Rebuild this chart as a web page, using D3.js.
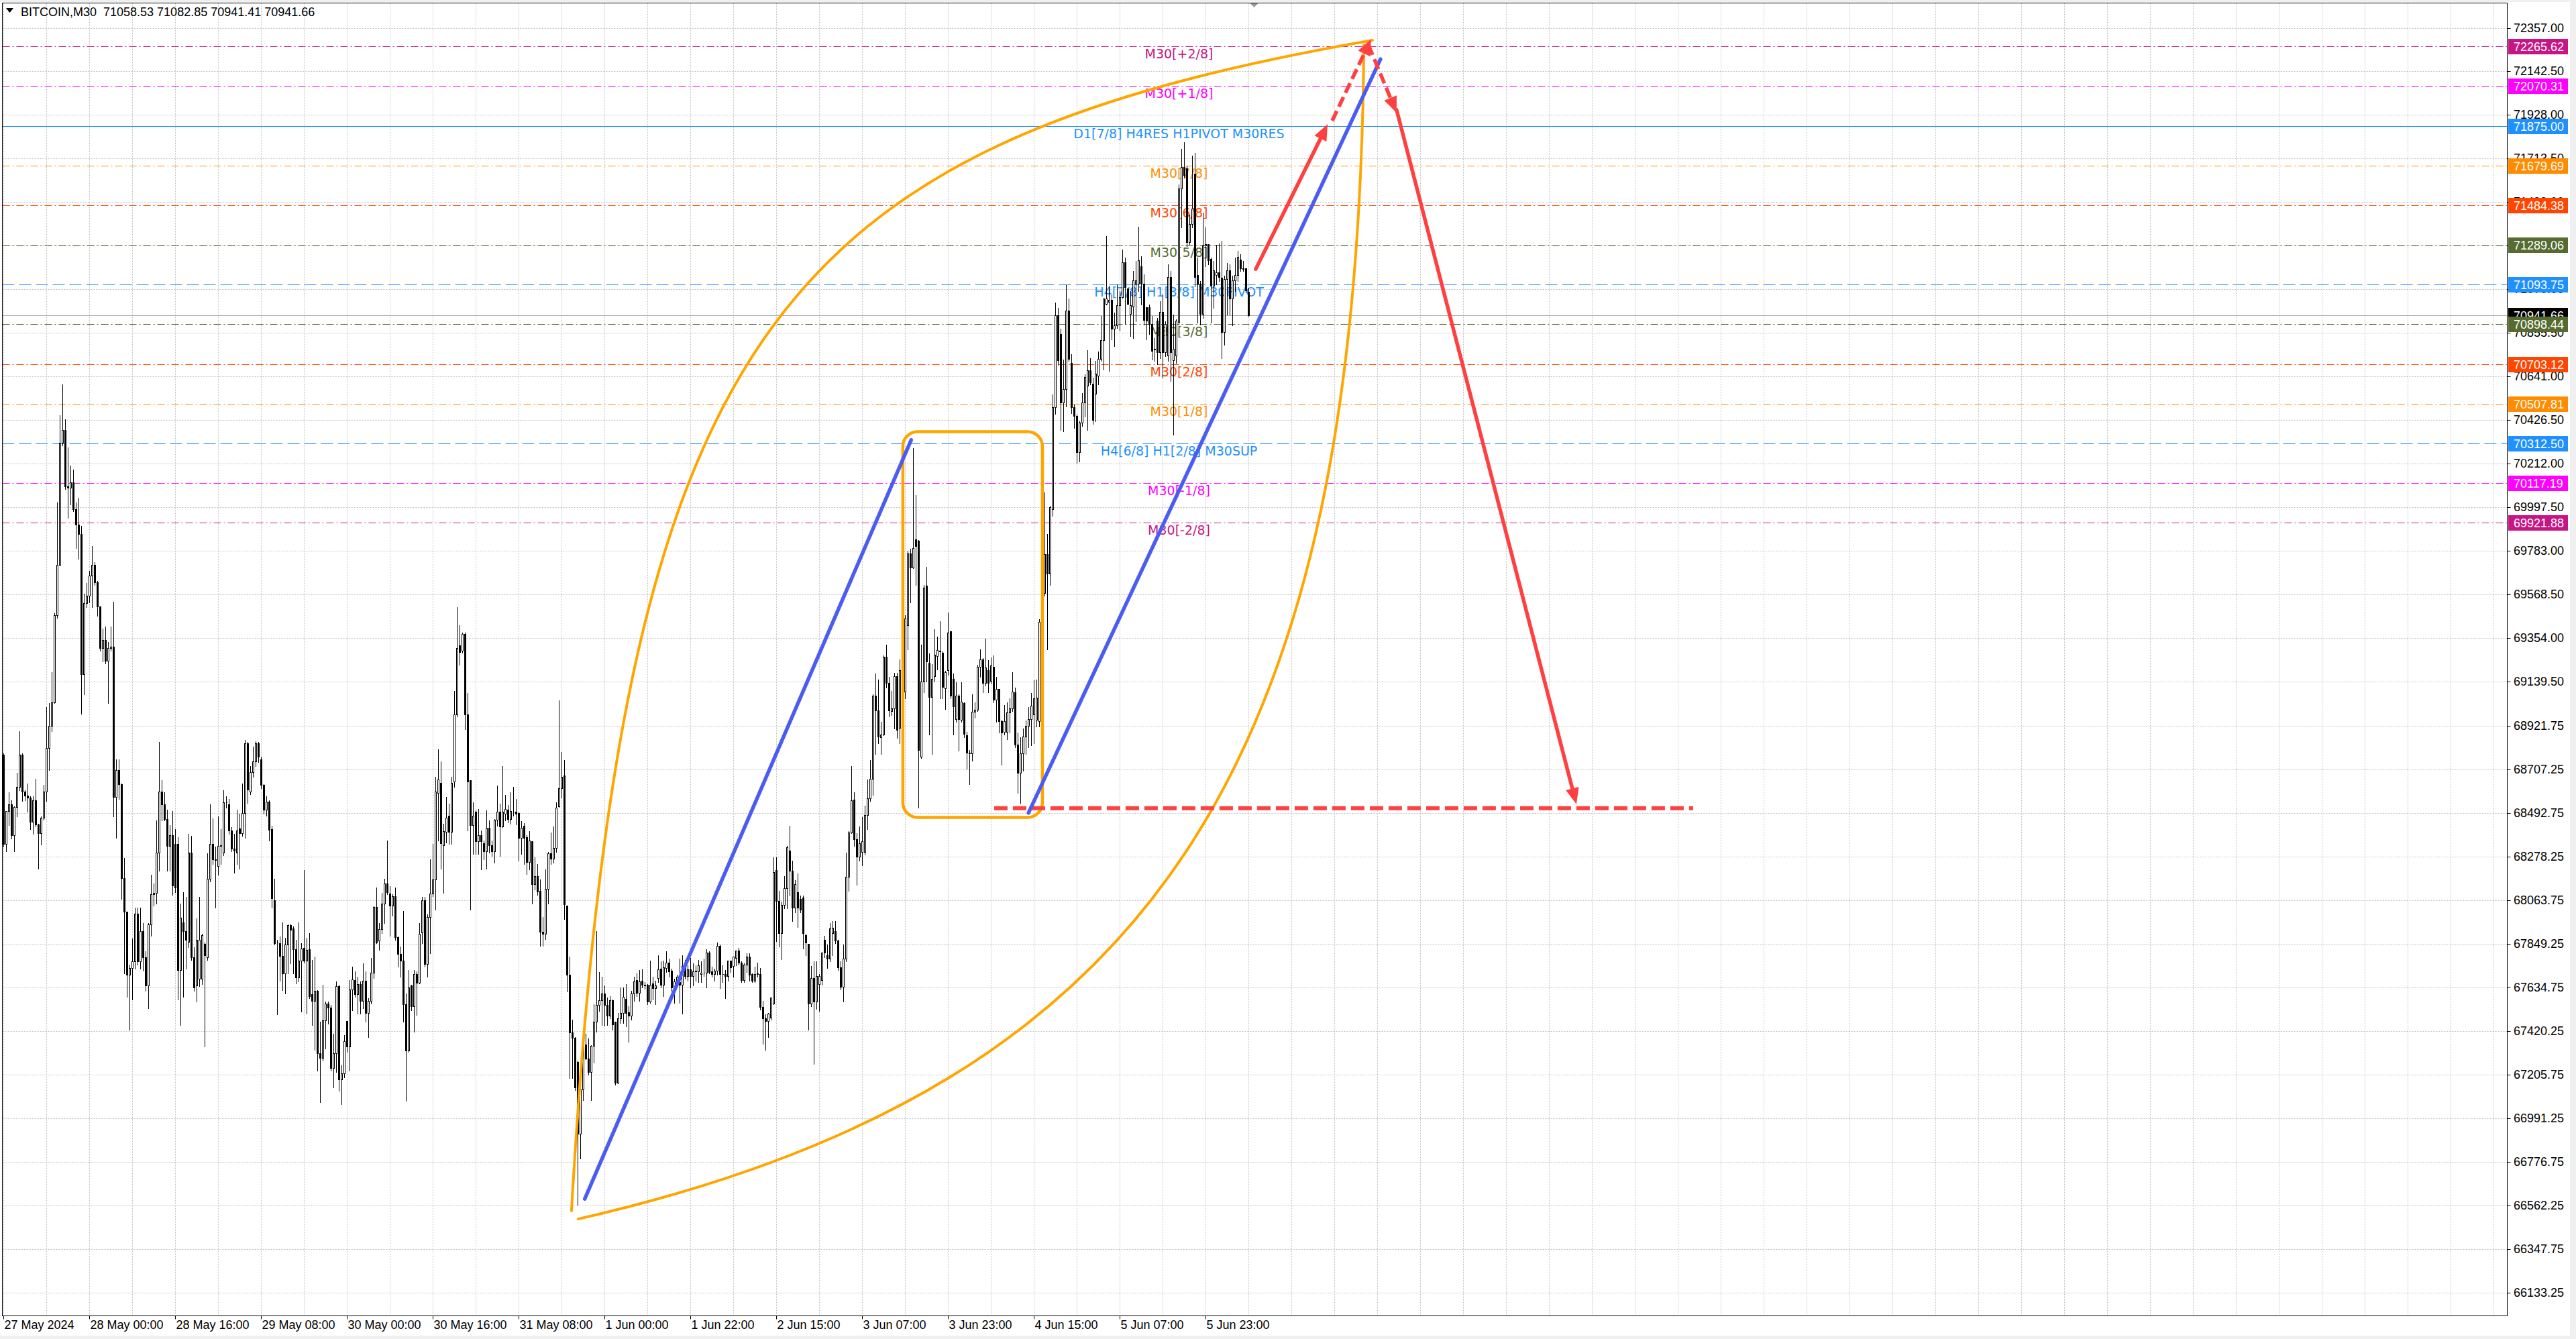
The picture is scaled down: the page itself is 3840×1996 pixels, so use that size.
<!DOCTYPE html>
<html>
<head>
<meta charset="utf-8">
<script src="https://cdn.jsdelivr.net/npm/d3@7"></script>
<style>
html, body { margin: 0; padding: 0; background: #fff; overflow: hidden; }
svg { display: block; }
</style>
</head>
<body>
<script>
// ---- data (BITCOIN, M30) ----
var opens = [
68782,68342,68503,68535,68385,68524,68621,68782,68599,68578,
68570,68449,68556,68438,68395,68470,68599,68814,68921,69039,
69468,69714,70315,70379,70101,70095,70122,69987,69914,69865,
69178,69528,69564,69661,69714,69629,69511,69307,69345,69243,
69307,69312,68571,68706,68636,68174,68009,67698,67730,67763,
67999,67763,67913,67784,67645,67945,68095,68100,68299,68599,
68535,68464,68331,68385,68342,68342,67720,67956,67913,67860,
68299,67784,67645,67677,67677,67849,67784,68170,68342,68267,
68234,68331,68299,68546,68535,68406,68320,68299,68417,68395,
68492,68835,68599,68696,68749,68835,68757,68633,68509,68550,
68415,68064,67857,67854,67791,67706,67846,67943,67927,67824,
67684,67767,67831,67767,67824,67601,67568,67618,67313,67288,
67474,67557,67536,67239,67313,67643,67184,67214,67470,67346,
67626,67672,67601,67651,67568,67668,67511,67568,67709,68031,
67866,67923,68047,68146,68097,68039,68085,67882,67800,67767,
67552,67326,67646,67544,67700,67659,67907,68064,67750,67981,
68097,68167,68592,68641,68336,68402,68481,68402,68649,68980,
69318,69293,69375,68980,68654,68435,68501,68356,68385,68344,
68306,68422,68336,68306,68459,68501,68427,68490,68509,68465,
68501,68499,68495,68372,68431,68375,68254,68355,68145,68182,
68111,67909,67900,68119,68296,68268,68322,68527,68616,68678,
68039,67698,67415,67387,67269,66915,67134,67353,67286,67219,
67348,67466,67550,67572,67605,67550,67496,67572,67466,67168,
67483,67510,67580,67513,67496,67605,67673,67610,67668,67648,
67648,67567,67655,67631,67681,67728,67648,67732,67757,67719,
67634,67665,67661,67648,67740,67690,67723,67690,67715,67715,
67702,67707,67707,67808,67715,67702,67719,67840,67702,67702,
67690,67766,67740,67779,67816,67757,67673,67749,67786,67702,
67668,67702,67702,67539,67483,67471,67488,67555,68212,68060,
67903,68040,68124,68307,68208,68029,68103,68071,68076,67892,
67850,67555,67682,67566,67650,67671,67871,67794,67777,67903,
67914,67866,67735,67640,67777,68181,68398,68560,68366,68278,
68303,68303,68482,68566,68661,69071,68998,68867,68881,69261,
69135,68994,69008,69166,68913,69197,69092,69419,69772,69703,
69840,69835,68770,69141,69612,69233,69065,69166,69267,69292,
69282,69107,69197,69387,69155,68956,69071,68951,69036,68876,
68791,68787,68993,69002,69212,69250,69134,69198,69145,69212,
69050,69103,68945,68892,68892,68987,69008,69086,68829,68692,
68787,68871,68924,68956,68980,68951,68945,69435,69576,69766,
69671,69990,70490,70942,70851,70515,70580,70966,70707,70490,
70449,70269,70416,70515,70597,70671,70605,70556,70646,70728,
70819,71000,71007,71017,70876,70892,70991,71032,71204,71073,
70950,70986,71098,71098,71183,71098,70983,70983,70901,70773,
70917,70761,70958,70761,70745,71130,70720,70745,70909,71566,
71672,71664,71303,71393,71639,71139,71098,70950,71287,71292,
71221,71089,71139,71155,71127,70859,71122,71163,71024,71114,
71139,71216,71172,71172,71058.53];
var highs = [
68790,68503,68599,68560,68530,68696,68899,68790,68610,68642,
68580,68578,68664,68445,68481,68636,69017,69039,69189,69479,
70026,70455,70605,70433,70294,70208,70186,70026,70047,69908,
69575,69629,69687,69811,69730,69640,69511,69404,69414,69339,
69414,69537,68760,68760,68642,68277,68009,67752,67881,68031,
68031,68031,67956,67816,67956,68192,68149,68460,68846,68657,
68599,68513,68438,68507,68417,68378,68052,68106,68085,68395,
68385,67838,67977,68085,67902,67860,68299,68541,68470,68331,
68481,68417,68610,68578,68567,68427,68395,68513,68492,68642,
68857,68846,68728,68824,68850,68846,68773,68640,68580,68558,
68435,68174,67874,67890,67960,67882,67948,67948,67940,67874,
67960,67857,68217,67882,67907,67775,67791,67626,67470,67651,
67568,67568,67552,67412,67668,67651,67255,67404,67470,67676,
67742,67717,67692,67668,67758,67717,67585,67783,68039,68130,
67956,68105,68174,68361,68138,68097,68130,67890,67841,68014,
67610,67725,67651,67725,67717,67956,68085,68085,67998,68270,
68344,68674,68811,68752,68443,68575,68542,68674,69098,69511,
69422,69384,69384,69087,68658,68550,68509,68518,68410,68361,
68509,68460,68361,68468,68633,68542,68728,68587,68537,68600,
68625,68565,68500,68456,68448,68389,68409,68358,68279,68246,
68170,67985,68220,68305,68402,68431,68549,69050,68796,68759,
68039,67791,67480,67395,67277,67176,67404,67412,67387,67353,
67555,67917,67715,67690,67648,67589,67597,67580,67471,67513,
67640,67640,67656,67547,67623,67690,67707,67723,67728,67665,
67656,67769,67690,67673,67796,67766,67769,67816,67779,67732,
67682,67702,67782,67796,67774,67749,67783,67757,67749,67774,
67766,67779,67825,67816,67740,67732,67858,67850,67749,67724,
67770,67770,67791,67820,67833,67766,67757,67808,67808,67707,
67740,67762,67735,67572,67505,67513,67590,68279,68279,68113,
68061,68187,68334,68434,68261,68166,68198,68092,68092,67903,
67850,67745,67766,67766,67703,67808,67892,67850,67956,67966,
67966,67872,67766,67850,68303,68408,68728,68598,68398,68429,
68476,68534,68661,68756,69082,69183,69155,68945,69271,69324,
69166,69099,69187,69187,69254,69324,69471,69787,69797,70292,
70060,69840,69324,69618,69709,69282,69229,69402,69366,69440,
69292,69197,69482,69387,69183,69141,69082,69141,69040,68896,
68808,69082,69040,69225,69303,69260,69355,69250,69261,69271,
69166,69103,68956,69029,69040,69061,69190,69113,68892,68871,
68913,68951,69019,69086,69149,69155,69450,69650,70075,69871,
70010,70556,71007,70983,70880,70728,71094,71029,70753,70507,
70457,70424,70564,70654,70773,70736,70638,70720,70769,70942,
71024,71336,71090,71048,70958,71098,71065,71270,71229,71078,
71065,71163,71213,71380,71237,71147,70983,71000,70942,70835,
70933,71016,71048,70917,71196,71163,70950,70925,71590,71763,
71796,71681,71442,71730,71746,71229,71114,71451,71377,71295,
71229,71213,71291,71298,71311,71139,71204,71196,71139,71229,
71262,71246,71213,71172,71082.85];
var lows = [
68330,68310,68438,68370,68310,68481,68610,68556,68560,68503,
68417,68395,68430,68224,68342,68465,68556,68707,68900,69039,
69457,69714,70304,70090,69950,70015,69983,69800,69747,68985,
69082,69511,69532,69511,69620,69468,69296,69243,69232,69039,
69296,68481,68374,68567,68074,67709,67591,67430,67580,67730,
67752,67730,67720,67623,67537,67891,68042,68052,68213,68460,
68460,68213,68213,68095,68106,67580,67452,67591,67730,67838,
67773,67623,67570,67645,67655,67349,67773,68159,68245,68031,
68192,68245,68288,68524,68395,68310,68202,68245,68224,68385,
68374,68546,68588,68674,68728,68749,68620,68493,68485,68360,
68030,67850,67507,67672,67626,67610,67709,67758,67709,67659,
67668,67519,67760,67511,67585,67453,67330,67230,67074,67280,
67338,67461,67230,67148,67222,67131,67065,67197,67320,67230,
67527,67593,67511,67511,67535,67470,67395,67560,67684,67857,
67824,67907,67956,68097,67894,67990,67874,67742,67692,67470,
67082,67321,67527,67420,67502,67659,67857,67742,67692,67808,
68088,68022,68361,68224,68105,68353,68344,68344,68625,68971,
69227,69285,68910,68410,68020,68295,68295,68295,68220,68270,
68224,68303,68286,68253,68435,68286,68427,68460,68451,68443,
68484,68440,68262,68296,68246,68195,68220,68052,68119,68094,
67842,67842,67875,68052,68246,68254,68305,68527,68574,67976,
67617,67193,67193,67134,66570,66798,67084,67286,67210,67084,
67269,67420,67522,67454,67449,67454,67488,67429,67159,67168,
67463,67463,67446,67370,67479,67572,67597,67572,67639,67631,
67555,67564,67580,67555,67665,67639,67597,67715,67690,67623,
67564,67639,67564,67510,67681,67673,67639,67648,67673,67665,
67665,67695,67640,67707,67690,67673,67700,67634,67665,67584,
67673,67715,67690,67749,67752,67665,67665,67715,67673,67665,
67665,67690,67530,67362,67332,67395,67480,67555,67867,67840,
67777,68029,68029,68092,67966,68008,67935,68008,67829,67798,
67429,67545,67261,67534,67524,67650,67787,67735,67766,67798,
67857,67724,67629,67570,67766,68113,68398,68334,68145,68261,
68240,68292,68419,68555,68587,68787,68840,68787,68881,69113,
68973,68977,68914,68867,68840,69061,69061,69303,69534,69703,
69618,68524,68766,69092,69145,68882,68787,69145,69204,69061,
69061,69008,69176,69061,68882,68945,68804,68945,68871,68713,
68640,68755,68966,68998,69166,69092,69124,69092,69134,69040,
68945,68892,68734,68882,68861,68892,68998,68819,68597,68545,
68703,68787,68819,68829,68840,68924,68924,69380,69566,69303,
69620,69960,70460,70700,70383,70375,70498,70720,70465,70392,
70219,70227,70400,70449,70383,70605,70411,70424,70605,70720,
70679,71000,70671,70827,70794,70884,70871,71032,70904,70999,
70843,70835,70917,71065,70999,70901,70827,70855,70728,70720,
70704,70736,70638,70745,70720,70622,70359,70712,70901,71377,
71623,71287,71295,71377,71089,70909,70901,70934,71188,71196,
70909,70983,71098,71114,70736,70802,70950,70950,70897,71065,
71114,71163,71163,71057,70941.41];
var closes = [
68342,68503,68535,68385,68524,68621,68782,68599,68578,68570,
68449,68556,68438,68395,68470,68599,68814,68921,69039,69468,
69714,70315,70379,70101,70095,70122,69987,69914,69865,69178,
69528,69564,69661,69714,69629,69511,69307,69345,69243,69307,
69312,68571,68706,68636,68174,68009,67698,67730,67763,67999,
67763,67913,67784,67645,67945,68095,68100,68299,68599,68535,
68464,68331,68385,68138,68127,67720,67977,67913,67870,68299,
67784,67634,67870,67870,67891,67795,68170,68342,68267,68262,
68331,68336,68546,68546,68406,68320,68310,68406,68395,68492,
68835,68610,68696,68749,68835,68771,68633,68509,68550,68410,
68075,67854,67857,67791,67706,67846,67943,67918,67824,67684,
67767,67828,67767,67821,67593,67568,67618,67313,67288,67474,
67557,67536,67239,67313,67643,67184,67214,67370,67346,67626,
67676,67601,67651,67568,67668,67511,67568,67709,68031,67857,
67923,68047,68146,68105,68039,68085,67882,67800,67767,67552,
67326,67635,67544,67700,67659,67899,68064,67750,67981,68097,
68167,68600,68658,68344,68405,68471,68402,68641,68980,69306,
69285,69375,68980,68649,68435,68481,68356,68385,68356,68306,
68422,68336,68306,68459,68501,68427,68501,68514,68465,68504,
68499,68490,68372,68422,68372,68254,68358,68145,68182,68106,
67909,67900,68119,68296,68268,68322,68520,68616,68672,68044,
67698,67415,67387,67143,66915,67134,67353,67286,67219,67348,
67466,67550,67572,67605,67550,67496,67572,67454,67168,67483,
67510,67589,67510,67496,67605,67664,67610,67664,67648,67645,
67567,67648,67631,67644,67723,67648,67735,67757,67715,67634,
67665,67688,67648,67740,67690,67723,67690,67715,67719,67745,
67707,67707,67808,67712,67702,67719,67840,67702,67700,67690,
67766,67735,67786,67816,67757,67673,67749,67786,67698,67668,
67702,67705,67539,67483,67471,67505,67584,68204,68060,67903,
68040,68124,68324,68208,68029,68145,68029,68019,67903,67857,
67555,67682,67566,67692,67692,67808,67808,67777,67924,67928,
67866,67735,67640,67777,68181,68398,68555,68366,68278,68345,
68355,68482,68566,68661,69071,68998,68871,68881,69261,69135,
68998,69008,69166,68903,69197,69092,69450,69772,69703,69797,
69808,68804,69141,69604,69240,69065,69155,69271,69296,69288,
69113,69187,69380,69071,69019,69071,68956,69040,68882,68791,
68787,68993,69002,69212,69250,69134,69208,69134,69219,69050,
69103,68945,68888,68945,68987,69008,69092,68829,68692,68787,
68871,68924,68956,69023,69057,69061,69435,69576,69766,69671,
69998,70490,70942,70720,70515,70580,70966,70728,70490,70449,
70269,70416,70515,70638,70671,70613,70428,70654,70728,70819,
71024,71024,71017,70876,70892,70991,71032,71204,71081,70999,
70991,71114,71114,71213,71098,70920,70917,70901,70769,70777,
70761,70958,70761,70901,71130,70761,70777,70917,71566,71672,
71631,71303,71393,71467,71131,71098,70950,71287,71292,71213,
71089,71163,71155,71131,70859,71122,71163,71024,71114,71139,
71229,71172,71170,71065,70941.66];

var priceTicks = [72357.00, 72142.50, 71928.00, 71713.50, 71499.00, 71284.50, 71070.00, 70855.50,
  70641.00, 70426.50, 70212.00, 69997.50, 69783.00, 69568.50, 69354.00, 69139.50, 68921.75,
  68707.25, 68492.75, 68278.25, 68063.75, 67849.25, 67634.75, 67420.25, 67205.75, 66991.25,
  66776.75, 66562.25, 66347.75, 66133.25];
var timeLabels = ["27 May 2024", "28 May 00:00", "28 May 16:00", "29 May 08:00", "30 May 00:00",
  "30 May 16:00", "31 May 08:00", "1 Jun 00:00", "1 Jun 22:00", "2 Jun 15:00", "3 Jun 07:00",
  "3 Jun 23:00", "4 Jun 15:00", "5 Jun 07:00", "5 Jun 23:00"];
var levelPrices = [72265.62, 72070.31, 71875.00, 71679.69, 71484.38, 71289.06, 71093.75,
  70898.44, 70703.12, 70507.81, 70312.50, 70117.19, 69921.88];
var levelNames = ["M30[+2/8]", "M30[+1/8]", "D1[7/8] H4RES H1PIVOT M30RES", "M30[7/8]", "M30[6/8]",
  "M30[5/8]", "H4[7/8] H1[3/8] M30PIVOT", "M30[3/8]", "M30[2/8]", "M30[1/8]",
  "H4[6/8] H1[2/8] M30SUP", "M30[-1/8]", "M30[-2/8]"];
var lastPrice = 70941.66;
var titleText = "BITCOIN,M30  71058.53 71082.85 70941.41 70941.66";

// drawn objects, in (bar, price)
var labelBar = 438;
var blueLines = [[216.55, 66595, 338.2, 70329], [381.9, 68494, 513.1, 72203]];
var redArrows = [[466.6, 71170, 493.4, 71883, 0], [495.1, 71900, 509.6, 72302, 1],
  [508.6, 72273, 519.1, 71939, 1], [519.1, 71953, 586.1, 68537, 0]];
var targetLine = [369.1, 629.6, 68517];
var rangeBox = [335.1, 387.1, 70370, 68472];
var arcLeft = [[211.6, 66536], [230.4, 70827], [285.1, 71778], [510.1, 72296]];
var arcRight = [[506.9, 72273], [504.9, 68807], [433.6, 67157], [214.1, 66496]];

// ---- styles ----
var dd = '11,4,2,4';
var levelColors = ['#C71585', '#FF00FF', '#1E90FF', '#FF8C00', '#FF4500', '#556B2F', '#1E90FF',
  '#556B2F', '#FF4500', '#FF8C00', '#1E90FF', '#FF00FF', '#C71585'];
var levelDash = [dd, dd, null, dd, dd, dd, '18,7', dd, dd, dd, '18,7', dd, dd];
var axisFont = '"Liberation Sans", Arial, sans-serif';
var RED = '#FF4040', BLUE = '#4A5CF2', ORANGE = '#FFA500';

var W = 3840, H = 1996;
var plotLeft = 3.5, plotRight = 3737.5, plotTop = 4.5, plotBottom = 1961.5;

var x = d3.scaleLinear().domain([0, 933]).range([5.5, 3737.5]);
var y = d3.scaleLinear().domain([66133.25, 72357]).range([1927, 41.5]);
function py(p) { return Math.round(y(p)) + 0.5; }

var svg = d3.select('body').append('svg').attr('width', W).attr('height', H);

svg.append('rect').attr('width', W).attr('height', H).attr('fill', '#fff');
svg.append('rect').attr('width', W).attr('height', 3).attr('fill', '#f0f0f0');
svg.append('rect').attr('x', 3831).attr('width', 9).attr('height', H).attr('fill', '#f0f0f0');
svg.append('rect').attr('y', 1991).attr('width', W).attr('height', 5).attr('fill', '#f0f0f0');

svg.append('clipPath').attr('id', 'plotclip').append('rect')
  .attr('x', plotLeft).attr('y', plotTop)
  .attr('width', plotRight - plotLeft).attr('height', plotBottom - plotTop);
var plot = svg.append('g').attr('clip-path', 'url(#plotclip)');

// grid
plot.selectAll('.vg').data(d3.range(0, 933, 16)).enter().append('line')
  .attr('x1', function(d){ return x(d); }).attr('x2', function(d){ return x(d); })
  .attr('y1', plotTop).attr('y2', plotBottom)
  .attr('stroke', '#c0c0c0').attr('stroke-dasharray', '2,2');
plot.selectAll('.hg').data(priceTicks).enter().append('line')
  .attr('x1', plotLeft).attr('x2', plotRight)
  .attr('y1', py).attr('y2', py)
  .attr('stroke', '#c0c0c0').attr('stroke-dasharray', '2,2');

// level lines
plot.selectAll('.lvl').data(levelPrices).enter().append('line')
  .attr('x1', plotLeft).attr('x2', plotRight)
  .attr('y1', py).attr('y2', py)
  .attr('stroke', function(d, i){ return levelColors[i]; })
  .attr('stroke-dasharray', function(d, i){ return levelDash[i]; });

// current price line
plot.append('line').attr('x1', plotLeft).attr('x2', plotRight)
  .attr('y1', py(lastPrice)).attr('y2', py(lastPrice)).attr('stroke', '#a8a8a8');

// level labels (under the candles)
plot.selectAll('.lbl').data(levelNames).enter().append('text')
  .attr('x', x(labelBar))
  .attr('y', function(d, i){ return y(levelPrices[i]) + 11; })
  .attr('text-anchor', 'middle').attr('dominant-baseline', 'central')
  .attr('font-family', '"DejaVu Sans", sans-serif').attr('font-size', '19px')
  .attr('fill', function(d, i){ return levelColors[i]; })
  .text(function(d){ return d; });

// candles
var bars = plot.append('g').attr('shape-rendering', 'crispEdges');
closes.forEach(function(c, i){
  var o = opens[i];
  var hi = Math.max(highs[i], o, c), lo = Math.min(lows[i], o, c);
  var cx = x(i);
  bars.append('line').attr('x1', cx).attr('x2', cx)
    .attr('y1', py(hi)).attr('y2', py(lo) + 1).attr('stroke', '#000');
  var yt = py(Math.max(o, c)), yb = py(Math.min(o, c));
  bars.append('path')
    .attr('d', 'M' + (cx - 1) + ',' + yt + 'H' + (cx + 1) + 'V' + yb + 'H' + (cx - 1) + 'Z')
    .attr('fill', c >= o ? '#fff' : '#000').attr('stroke', '#000');
});

// drawings
var draw = plot.append('g');
function arrowHead(x1, y1, x2, y2, color) {
  var a = Math.atan2(y2 - y1, x2 - x1), L = 24, hw = 10;
  var bx = x2 - L * Math.cos(a), by = y2 - L * Math.sin(a);
  var ox = -Math.sin(a) * hw, oy = Math.cos(a) * hw;
  draw.append('path')
    .attr('d', 'M' + x2 + ',' + y2 + 'L' + (bx + ox) + ',' + (by + oy) + 'L' + (bx - ox) + ',' + (by - oy) + 'Z')
    .attr('fill', color);
  return [bx + 2 * Math.cos(a), by + 2 * Math.sin(a)];
}

// orange lens
[arcLeft, arcRight].forEach(function(pts){
  var p = d3.path();
  p.moveTo(x(pts[0][0]), y(pts[0][1]));
  p.bezierCurveTo(x(pts[1][0]), y(pts[1][1]), x(pts[2][0]), y(pts[2][1]), x(pts[3][0]), y(pts[3][1]));
  draw.append('path').attr('d', p.toString()).attr('fill', 'none')
    .attr('stroke', ORANGE).attr('stroke-width', 4).attr('stroke-linecap', 'round');
});

// range box
draw.append('rect')
  .attr('x', x(rangeBox[0])).attr('y', y(rangeBox[2]))
  .attr('width', x(rangeBox[1]) - x(rangeBox[0])).attr('height', y(rangeBox[3]) - y(rangeBox[2]))
  .attr('rx', 22).attr('ry', 22)
  .attr('fill', 'none').attr('stroke', ORANGE).attr('stroke-width', 4.5);

// target dashed line
draw.append('line')
  .attr('x1', x(targetLine[0])).attr('x2', x(targetLine[1]))
  .attr('y1', y(targetLine[2])).attr('y2', y(targetLine[2]))
  .attr('stroke', RED).attr('stroke-width', 6).attr('stroke-dasharray', '20,8');

// blue trend lines
draw.selectAll('.bl').data(blueLines).enter().append('line')
  .attr('x1', function(d){ return x(d[0]); }).attr('y1', function(d){ return y(d[1]); })
  .attr('x2', function(d){ return x(d[2]); }).attr('y2', function(d){ return y(d[3]); })
  .attr('stroke', BLUE).attr('stroke-width', 5.5).attr('stroke-linecap', 'round');

// red forecast arrows
redArrows.forEach(function(a){
  var x1 = x(a[0]), y1 = y(a[1]), x2 = x(a[2]), y2 = y(a[3]);
  var base = arrowHead(x1, y1, x2, y2, RED);
  draw.append('line').attr('x1', x1).attr('y1', y1).attr('x2', base[0]).attr('y2', base[1])
    .attr('stroke', RED).attr('stroke-width', 5.5)
    .attr('stroke-linecap', a[4] ? 'butt' : 'round')
    .attr('stroke-dasharray', a[4] ? '16,7' : null);
});

// frame
svg.append('rect').attr('x', plotLeft).attr('y', plotTop)
  .attr('width', plotRight - plotLeft).attr('height', plotBottom - plotTop)
  .attr('fill', 'none').attr('stroke', '#000');

// price axis
var axis = svg.append('g').attr('font-family', axisFont).attr('font-size', '18px');
axis.selectAll('.tk').data(priceTicks).enter().append('line')
  .attr('x1', plotRight).attr('x2', plotRight + 5).attr('y1', py).attr('y2', py).attr('stroke', '#000');
axis.selectAll('.tl').data(priceTicks).enter().append('text')
  .attr('x', 3747).attr('y', function(d){ return y(d); })
  .attr('dominant-baseline', 'central').attr('fill', '#000')
  .text(function(d){ return d3.format('.2f')(d); });

function priceBox(p, color) {
  var yc = Math.round(y(p));
  axis.append('rect').attr('x', 3739).attr('y', yc - 11).attr('width', 89).attr('height', 23)
    .attr('fill', color);
  axis.append('text').attr('x', 3747).attr('y', yc + 0.5).attr('dominant-baseline', 'central')
    .attr('fill', '#fff').text(d3.format('.2f')(p));
}
priceBox(lastPrice, '#000');
levelPrices.forEach(function(p, i){ priceBox(p, levelColors[i]); });

// time axis
var tax = svg.append('g').attr('font-family', axisFont).attr('font-size', '18px');
timeLabels.forEach(function(t, k){
  var xx = x(k * 32);
  tax.append('line').attr('x1', xx).attr('x2', xx).attr('y1', plotBottom).attr('y2', plotBottom + 5).attr('stroke', '#000');
  tax.append('text').attr('x', xx + 1).attr('y', 1975).attr('dominant-baseline', 'central')
    .attr('fill', '#000').text(t);
});

// title and markers
svg.append('path').attr('d', 'M9,12L20,12L14.5,19Z').attr('fill', '#000');
svg.append('text').attr('x', 31).attr('y', 17.5).attr('dominant-baseline', 'central')
  .style('white-space', 'pre')
  .attr('font-family', axisFont).attr('font-size', '18px').attr('fill', '#000').text(titleText);
var mx = x(closes.length + 1);
svg.append('path').attr('d', 'M' + (mx - 6) + ',5L' + (mx + 6) + ',5L' + mx + ',11Z').attr('fill', '#9a9a9a');
</script>
</body>
</html>
